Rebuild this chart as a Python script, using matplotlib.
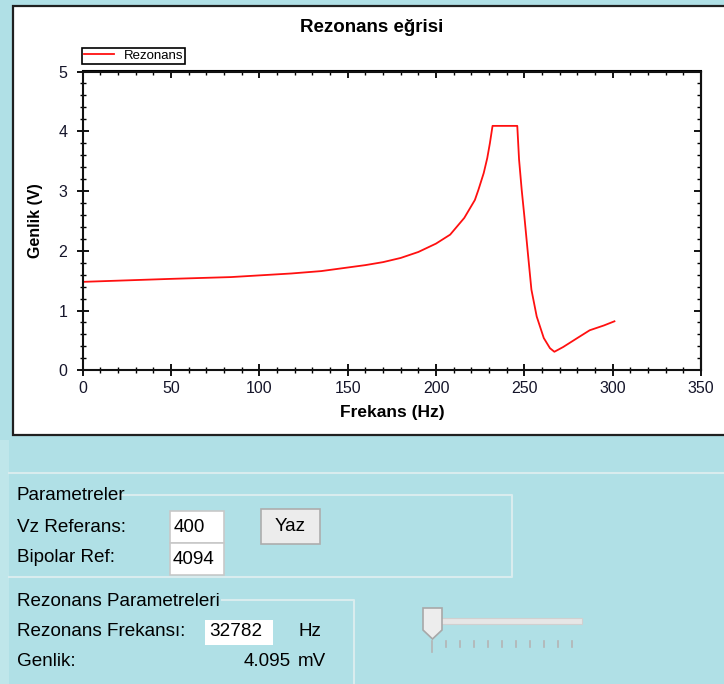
import numpy as np
import matplotlib
matplotlib.use("Agg")
import matplotlib.pyplot as plt
from matplotlib.patches import Rectangle, Polygon
from matplotlib.ticker import MultipleLocator

# Data
frekans = [0, 20, 50, 84, 118, 135, 150, 160, 170, 180, 190, 200, 208, 216, 222,
           224, 227, 229, 230.5, 232, 246, 247, 248.5, 250, 252, 254, 257, 261,
           264.5, 267, 272, 280, 287, 295, 301]
genlik = [1.48, 1.50, 1.53, 1.56, 1.62, 1.66, 1.72, 1.76, 1.81, 1.88, 1.98, 2.12,
          2.27, 2.55, 2.85, 3.02, 3.30, 3.55, 3.80, 4.09, 4.09, 3.53, 3.02, 2.58,
          1.96, 1.35, 0.90, 0.54, 0.37, 0.31, 0.39, 0.54, 0.67, 0.75, 0.82]

x_ticks = [0, 50, 100, 150, 200, 250, 300, 350]
y_ticks = [0, 1, 2, 3, 4, 5]

# Form values
vz_referans = "400"
bipolar_ref = "4094"
rez_frekans = "32782"
rez_genlik = "4.095"

plt.rcParams['font.family'] = ['Liberation Sans', 'DejaVu Sans']

W, H = 724, 684
fig = plt.figure(figsize=(W / 100, H / 100), dpi=100)
fig.patch.set_facecolor('#B0E0E6')

# background axes in pixel coordinates for the form widgets
bg = fig.add_axes([0, 0, 1, 1], zorder=0)
bg.set_xlim(0, W)
bg.set_ylim(H, 0)
bg.axis('off')

# chart panel
bg.add_patch(Rectangle((13, 6), 730, 429, facecolor='white', edgecolor='#202020', lw=1.6))
bg.text(372, 27, "Rezonans eğrisi", ha='center', va='center', fontsize=13.5, fontweight='bold')

# lower area
bg.add_patch(Rectangle((0, 440), 9, 244, facecolor='#BFE6EA', edgecolor='none'))
line_c = '#D9ECEE'
bg.plot([9, 724], [472.5, 472.5], color=line_c, lw=1.5)

# group box: Parametreler
bg.plot([114, 512, 512, 9], [495, 495, 577, 577], color=line_c, lw=1.5)
ui_fs = 13.6
bg.text(17, 496, "Parametreler", ha='left', va='center', fontsize=ui_fs)
bg.text(17, 528, "Vz Referans:", ha='left', va='center', fontsize=ui_fs)
bg.text(17, 558, "Bipolar Ref:", ha='left', va='center', fontsize=ui_fs)
bg.add_patch(Rectangle((170, 511), 54, 32, facecolor='white', edgecolor='#C8C8C8', lw=1.2))
bg.add_patch(Rectangle((170, 543), 54, 32, facecolor='white', edgecolor='#C8C8C8', lw=1.2))
bg.text(174, 527, vz_referans, ha='left', va='center', fontsize=ui_fs)
bg.text(173, 559, bipolar_ref, ha='left', va='center', fontsize=ui_fs)
bg.add_patch(Rectangle((261, 509), 59, 35, facecolor='#ECECEC', edgecolor='#ADADAD', lw=1.2))
bg.text(290.5, 526.5, "Yaz", ha='center', va='center', fontsize=ui_fs)

# group box: Rezonans Parametreleri
bg.plot([222, 354, 354], [600, 600, 684], color=line_c, lw=1.5)
bg.text(17, 601, "Rezonans Parametreleri", ha='left', va='center', fontsize=ui_fs)
bg.text(17, 632, "Rezonans Frekansı:", ha='left', va='center', fontsize=ui_fs)
bg.add_patch(Rectangle((205, 620), 68, 25, facecolor='white', edgecolor='none'))
bg.text(209, 632, rez_frekans, ha='left', va='center', fontsize=ui_fs)
bg.text(298, 632, "Hz", ha='left', va='center', fontsize=ui_fs)
bg.text(17, 662, "Genlik:", ha='left', va='center', fontsize=ui_fs)
bg.text(291, 662, rez_genlik, ha='right', va='center', fontsize=ui_fs)
bg.text(298, 662, "mV", ha='left', va='center', fontsize=ui_fs)

# track bar
bg.add_patch(Rectangle((440, 618), 142, 6, facecolor='#E6E6E6', edgecolor='#D0D0D0', lw=0.8))
bg.add_patch(Polygon([[423, 608], [442, 608], [442, 630], [432.5, 639], [423, 630]],
                     closed=True, facecolor='#EDEDED', edgecolor='#A8A8A8', lw=1.2))
for i, tx in enumerate(np.arange(432, 573, 14)):
    bg.plot([tx, tx], [641, 652 if i == 0 else 647], color='#B4B4B4', lw=1.2)

# chart axes
left, right, top, bottom = 82.7, 701, 71.5, 370.3
ax = fig.add_axes([left / W, 1 - bottom / H, (right - left) / W, (bottom - top) / H], zorder=2)
ax.plot(frekans, genlik, color='#FF1010', lw=1.3, label='Rezonans')
ax.set_xlim(0, 350)
ax.set_ylim(0, 5)
ax.set_xticks(x_ticks)
ax.set_yticks(y_ticks)
ax.xaxis.set_minor_locator(MultipleLocator(10))
ax.yaxis.set_minor_locator(MultipleLocator(0.2))
for s in ax.spines.values():
    s.set_linewidth(1.5)
    s.set_color('#111111')
ax.tick_params(which='major', direction='inout', length=8, width=1.3, labelsize=11.5,
               labelcolor='#15152a')
ax.tick_params(which='minor', direction='inout', length=4.5, width=1.0)
ax.tick_params(axis='x', pad=4)
ax.tick_params(axis='y', pad=7)

# top and right axes: ticks pointing inward only
secx = ax.secondary_xaxis('top')
secx.set_xticks(x_ticks)
secx.xaxis.set_minor_locator(MultipleLocator(10))
secx.tick_params(which='major', direction='in', length=5, width=1.3, labeltop=False)
secx.tick_params(which='minor', direction='in', length=3, width=1.0)
secx.spines['top'].set_linewidth(1.5)
secy = ax.secondary_yaxis('right')
secy.set_yticks(y_ticks)
secy.yaxis.set_minor_locator(MultipleLocator(0.2))
secy.tick_params(which='major', direction='in', length=5, width=1.3, labelright=False)
secy.tick_params(which='minor', direction='in', length=3, width=1.0)
secy.spines['right'].set_linewidth(1.5)

ax.set_xlabel("Frekans (Hz)", fontsize=12.5, fontweight='bold')
ax.xaxis.set_label_coords(0.5, (bottom - 412) / (bottom - top))
ax.xaxis.label.set_va('center')
ax.set_ylabel("Genlik (V)", fontsize=11.5, fontweight='bold')
ax.yaxis.set_label_coords((35 - left) / (right - left), 0.5)
ax.yaxis.label.set_va('center')

leg = ax.legend(loc='lower left', bbox_to_anchor=(82 / W, 1 - 64 / H),
                bbox_transform=fig.transFigure, borderaxespad=0, fontsize=9.5,
                fancybox=False, edgecolor='black', framealpha=1, borderpad=0.15,
                handlelength=2.3, handletextpad=0.7)
leg.get_frame().set_linewidth(1.2)

fig.savefig('out.png', dpi=100, facecolor=fig.get_facecolor())
